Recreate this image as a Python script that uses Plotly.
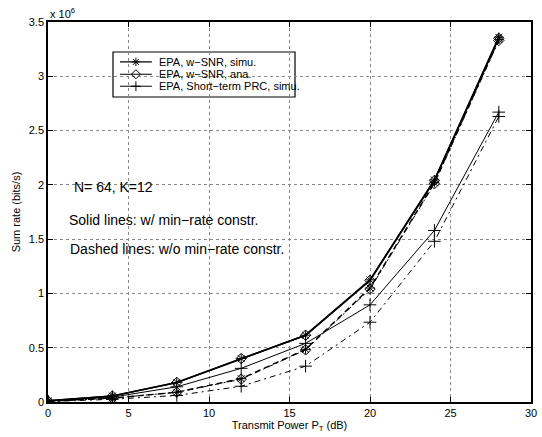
import plotly.graph_objects as go

power_db = [0, 4, 8, 12, 16, 20, 24, 28]

# Solid lines: with min-rate constraint
wsnr_simu_solid = [0.01e6, 0.055e6, 0.18e6, 0.40e6, 0.615e6, 1.125e6, 2.045e6, 3.36e6]
wsnr_ana_solid = [0.01e6, 0.055e6, 0.18e6, 0.40e6, 0.615e6, 1.12e6, 2.04e6, 3.35e6]
prc_simu_solid = [0.008e6, 0.045e6, 0.14e6, 0.31e6, 0.54e6, 0.895e6, 1.58e6, 2.67e6]

# Dashed lines: without min-rate constraint
wsnr_simu_dashed = [0.006e6, 0.035e6, 0.09e6, 0.215e6, 0.485e6, 1.05e6, 2.02e6, 3.34e6]
wsnr_ana_dashed = [0.006e6, 0.035e6, 0.09e6, 0.21e6, 0.48e6, 1.04e6, 2.01e6, 3.33e6]
prc_simu_dashed = [0.004e6, 0.025e6, 0.06e6, 0.145e6, 0.33e6, 0.735e6, 1.48e6, 2.63e6]

legend_names = ["EPA, w\u2212SNR, simu.", "EPA, w\u2212SNR, ana.", "EPA, Short\u2212term PRC, simu."]
legend_symbols = ["asterisk-open", "diamond-open", "cross-thin-open"]

x_ticks = [0, 5, 10, 15, 20, 25, 30]
y_ticks = [0, 0.5e6, 1e6, 1.5e6, 2e6, 2.5e6, 3e6, 3.5e6]
y_tick_labels = ["0", "0.5", "1", "1.5", "2", "2.5", "3", "3.5"]

FONT = "Liberation Sans, Arial, Helvetica, sans-serif"
fig = go.Figure()

def add(y, name, dash, width, symbol, size):
    fig.add_trace(go.Scatter(
        x=power_db, y=y, name=name, mode="lines+markers",
        line=dict(color="black", width=width, dash=dash),
        marker=dict(symbol=symbol, size=size, color="black",
                    line=dict(color="black", width=1)),
        showlegend=False))

add(wsnr_simu_solid, legend_names[0], "solid", 1.6, legend_symbols[0], 8)
add(wsnr_ana_solid, legend_names[1], "solid", 1.6, legend_symbols[1], 8)
add(prc_simu_solid, legend_names[2], "solid", 1.0, legend_symbols[2], 9)
add(wsnr_simu_dashed, legend_names[0], "6px,4px", 1.4, legend_symbols[0], 8)
add(wsnr_ana_dashed, legend_names[1], "6px,3px,2px,3px", 1.0, legend_symbols[1], 8)
add(prc_simu_dashed, legend_names[2], "6px,4px,2px,4px", 1.0, legend_symbols[2], 9)

# ---- custom legend (box in paper coords, markers on a hidden 0..1 overlay axis)
lg_x0, lg_x1, lg_y0, lg_y1 = 0.1346, 0.5114, 0.8026, 0.921
lg_rows = [0.895, 0.8625, 0.831]
lg_line_x0, lg_line_x1, lg_text_x = 0.149, 0.215, 0.2257
fig.add_shape(type="rect", xref="paper", yref="paper", x0=lg_x0, x1=lg_x1, y0=lg_y0, y1=lg_y1,
              line=dict(color="black", width=1.2), fillcolor="white", layer="between")
for i, (nm, sym) in enumerate(zip(legend_names, legend_symbols)):
    yy = lg_rows[i]
    fig.add_shape(type="line", xref="paper", yref="paper", x0=lg_line_x0, x1=lg_line_x1,
                  y0=yy, y1=yy, line=dict(color="black", width=1.2 if i < 2 else 1.0), layer="above")
    fig.add_annotation(text=nm, xref="paper", yref="paper", x=lg_text_x, y=yy,
                       xanchor="left", yanchor="middle", showarrow=False,
                       font=dict(size=11, color="black", family=FONT))
fig.add_trace(go.Scatter(
    x=[(lg_line_x0 + lg_line_x1) / 2] * 3, y=lg_rows, mode="markers",
    marker=dict(symbol=legend_symbols, size=7, color="black", line=dict(color="black", width=1)),
    xaxis="x2", yaxis="y2", showlegend=False, hoverinfo="skip"))

axis_common = dict(
    showline=True, linecolor="black", linewidth=1.5, mirror="allticks",
    ticks="inside", ticklen=5, tickcolor="black",
    showgrid=True, gridcolor="#888888", griddash="dot", gridwidth=1,
    zeroline=False, tickfont=dict(size=11, color="black", family=FONT),
    automargin=False,
)

fig.update_xaxes(range=[0, 30], tickvals=x_ticks,
                 title=dict(text="Transmit Power P<sub>T</sub> (dB)",
                            font=dict(size=11, color="black", family=FONT), standoff=2),
                 **axis_common)
fig.update_yaxes(range=[0, 3.5e6], tickvals=y_ticks, ticktext=y_tick_labels,
                 title=dict(text="Sum rate (bits/s)",
                            font=dict(size=11, color="black", family=FONT), standoff=6),
                 **axis_common)

fig.add_annotation(text="x 10<sup>6</sup>", xref="paper", yref="paper",
                   x=0.0, y=1.0, xanchor="left", yanchor="bottom", showarrow=False,
                   font=dict(size=11, color="black", family=FONT))
ann_font = dict(size=14, color="black", family=FONT)
fig.add_annotation(text="N= 64, K=12", xref="paper", yref="paper", x=0.049, y=0.5666,
                   xanchor="left", yanchor="middle", showarrow=False, font=ann_font)
fig.add_annotation(text="Solid lines: w/ min\u2212rate constr.", xref="paper", yref="paper",
                   x=0.04, y=0.479, xanchor="left", yanchor="middle", showarrow=False, font=ann_font)
fig.add_annotation(text="Dashed lines: w/o min\u2212rate constr.", xref="paper", yref="paper",
                   x=0.041, y=0.402, xanchor="left", yanchor="middle", showarrow=False, font=ann_font)

fig.update_layout(
    width=542, height=437,
    margin=dict(l=48, r=11, t=22, b=35),
    paper_bgcolor="white", plot_bgcolor="white",
    font=dict(family=FONT, color="black"),
    showlegend=False,
    xaxis2=dict(overlaying="x", range=[0, 1], visible=False, domain=[0, 1], anchor="y2"),
    yaxis2=dict(overlaying="y", range=[0, 1], visible=False, domain=[0, 1], anchor="x2"),
)

fig.write_html("out.html", config={"displayModeBar": False},
               post_script="document.body.style.margin='0';document.body.style.overflow='hidden';")
